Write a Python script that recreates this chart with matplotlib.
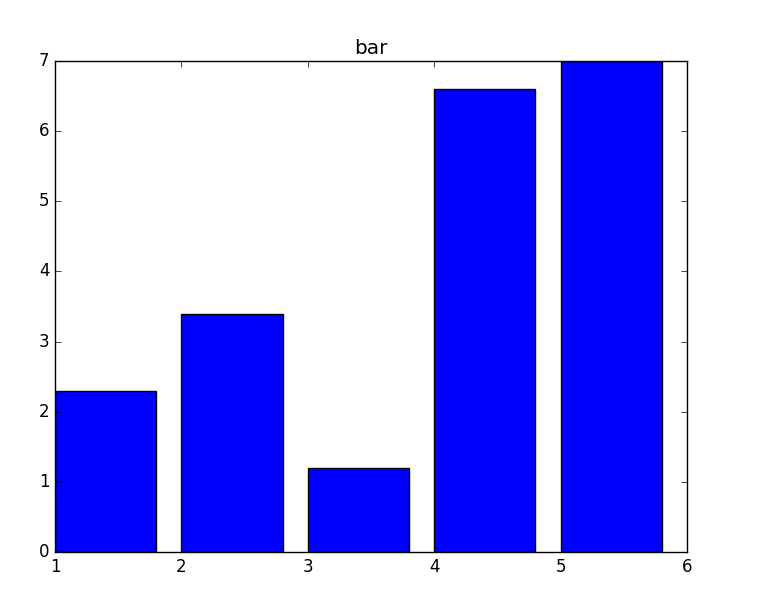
import matplotlib
matplotlib.use("Agg")
from matplotlib import pyplot as plt

plt.style.use("classic")

positions = [1, 2, 3, 4, 5]
values = [2.3, 3.4, 1.2, 6.6, 7.0]

fig = plt.figure(figsize=(7.81, 6.06), dpi=100)
ax = fig.add_axes([55 / 781, 1 - 552 / 606, (687 - 55) / 781, (552 - 61) / 606])

ax.bar(positions, values, width=0.8, align="edge", color="blue", edgecolor="black")
ax.set_xlim(1, 6)
ax.set_ylim(0, 7)
ax.set_title("bar")

fig.savefig("out.png", dpi=100)
